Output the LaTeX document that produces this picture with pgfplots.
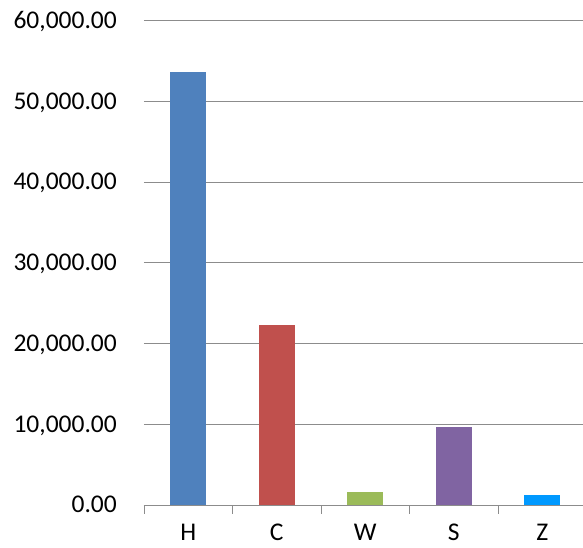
\documentclass[border=0pt]{standalone}
\usepackage{pgfplots}
\pgfplotsset{compat=1.18}
\usepackage{fontspec}
\setmainfont{Carlito}
\definecolor{cH}{HTML}{4F81BD}
\definecolor{cC}{HTML}{C0504D}
\definecolor{cW}{HTML}{9BBB59}
\definecolor{cS}{HTML}{8064A2}
\definecolor{cZ}{HTML}{0099FF}
\definecolor{gridgray}{HTML}{8C8C8C}
\begin{document}
\fontsize{25.5pt}{31pt}\selectfont
\begin{tikzpicture}
\path[use as bounding box] (-144pt,-43pt) rectangle (439pt,505pt);
\begin{axis}[
    scale only axis,
    width=439pt,
    height=484.5pt,
    xmin=-0.5, xmax=4.46,
    ymin=0, ymax=60000,
    ybar, bar width=36pt, bar shift=0pt,
    axis lines*=left,
    axis line style={-},
    x axis line style={draw=gridgray, line width=0.9pt},
    y axis line style={draw=none},
    ymajorgrids,
    grid style={draw=gridgray, line width=0.9pt},
    ytick={0,10000,...,60000},
    ytick style={draw=none},
    scaled y ticks=false,
    /pgf/number format/.cd, fixed, fixed zerofill, precision=2, 1000 sep={,}, assume math mode=true,
    /pgfplots/.cd,
    yticklabel style={anchor=base east, inner sep=0pt, xshift=-27pt, yshift=-8pt},
    xtick={0,1,2,3,4},
    xticklabels={H,C,W,S,Z},
    xtick style={draw=none},
    xticklabel style={anchor=base, inner sep=0pt, text depth=0pt, yshift=-31pt},
    extra x ticks={-0.5,0.5,1.5,2.5,3.5},
    extra x tick labels={},
    extra x tick style={xtick style={draw=gridgray, line width=0.9pt}, tick align=outside, major tick length=9pt, grid=none},
    clip=false,
]
\addplot[fill=cH, draw=none] coordinates {(0,53600)};
\addplot[fill=cC, draw=none] coordinates {(1,22350)};
\addplot[fill=cW, draw=none] coordinates {(2,1600)};
\addplot[fill=cS, draw=none] coordinates {(3,9670)};
\addplot[fill=cZ, draw=none] coordinates {(4,1250)};
\end{axis}
\end{tikzpicture}
\end{document}
